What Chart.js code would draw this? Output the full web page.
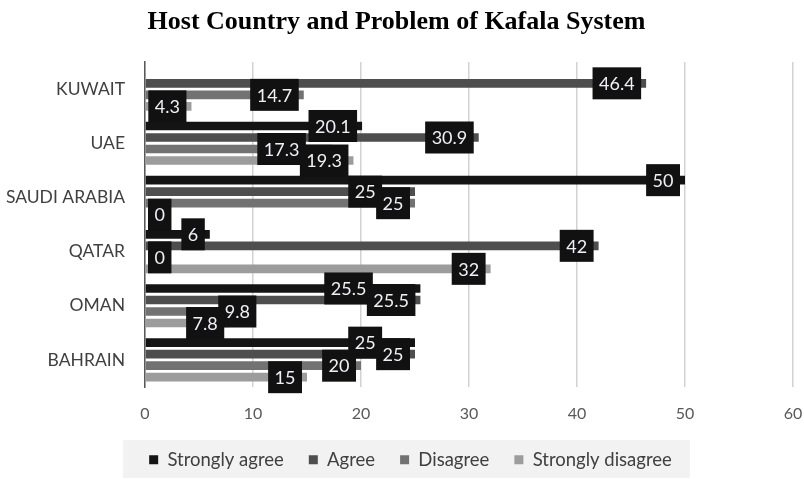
<!DOCTYPE html>
<html>
<head>
<meta charset="utf-8">
<script src="https://cdn.jsdelivr.net/npm/chart.js@4.4.0/dist/chart.umd.min.js"></script>
<style>
  html, body { margin: 0; padding: 0; background: #fff; overflow: hidden; }
  #wrap { width: 804px; height: 479px; }
</style>
</head>
<body>
<div id="wrap"><canvas id="chart"></canvas></div>
<script>
const countries = ['KUWAIT', 'UAE', 'SAUDI ARABIA', 'QATAR', 'OMAN', 'BAHRAIN'];
const stronglyAgree = [null, 20.1, 50, 6, 25.5, 25];
const agree = [46.4, 30.9, 25, 42, 25.5, 25];
const disagree = [14.7, 17.3, 25, 0, 9.8, 20];
const stronglyDisagree = [4.3, 19.3, 0, 32, 7.8, 15];
const seriesNames = ['Strongly agree', 'Agree', 'Disagree', 'Strongly disagree'];

const FONT = 'Lato, "Open Sans", sans-serif';

// black value boxes at the inside end of each bar; when two boxes in a
// group collide the earlier series is pushed aside (left if it is shorter to do so)
const barLabels = {
    id: 'barLabels',
    afterDatasetsDraw(chart) {
        const ctx = chart.ctx;
        const x0 = chart.scales.x.getPixelForValue(0);
        const h = 32, slack = 6, minOverlap = 10;
        ctx.save();
        ctx.font = '18px ' + FONT;
        ctx.textBaseline = 'middle';
        ctx.textAlign = 'center';

        const collides = (a, b) =>
            Math.abs(a.y - b.y) < h &&
            Math.min(a.right, b.right) - Math.max(a.left, b.left) > minOverlap;

        const placed = [];
        const n = chart.data.datasets.length;
        for (let i = n - 1; i >= 0; i--) {
            const ds = chart.data.datasets[i];
            chart.getDatasetMeta(i).data.forEach((bar, j) => {
                const v = ds.data[j];
                if (v === null || v === undefined) return;
                const txt = String(v);
                const w = ctx.measureText(txt).width + 13;
                let right = bar.x - 5;
                if (right - w < x0 + 3) right = x0 + 3 + w;
                let box = { left: right - w, right, y: bar.y, w, txt, i };
                const hit = placed.find(p => collides(box, p));
                if (hit) {
                    const toLeft = { ...box, right: hit.left + slack, left: hit.left + slack - w };
                    const toRight = { ...box, left: hit.right - slack, right: hit.right - slack + w };
                    const dl = box.right - toLeft.right;
                    const dr = toRight.left - box.left;
                    if (toLeft.left >= x0 + 3 && dl <= dr + 0.5) box = toLeft;
                    else box = toRight;
                }
                placed.push(box);
            });
        }

        placed.sort((a, b) => a.i - b.i).forEach(b => {
            ctx.fillStyle = '#111111';
            ctx.fillRect(b.left, b.y - h / 2, b.w, h);
            ctx.fillStyle = '#eef0f5';
            ctx.fillText(b.txt, b.left + b.w / 2, b.y + 1);
        });
        ctx.restore();
    }
};

// legend row sits a little right of centre, on a light grey panel
const legendPanel = {
    id: 'legendPanel',
    afterLayout(chart) {
        const lg = chart.legend;
        if (!lg) return;
        lg.left += 14;
        lg.right += 14;
        lg.adjustHitBoxes();
    },
    beforeDraw(chart) {
        const lg = chart.legend;
        if (!lg || !lg.legendHitBoxes.length) return;
        const boxes = lg.legendHitBoxes;
        const left = Math.min(...boxes.map(b => b.left)) - 26;
        const right = Math.max(...boxes.map(b => b.left + b.width)) + 18;
        const ctx = chart.ctx;
        ctx.save();
        ctx.fillStyle = '#f2f2f2';
        ctx.fillRect(left, 440, right - left, 38);
        ctx.restore();
    }
};

const colors = ['#141414', '#4e4e4e', '#727272', '#9c9c9c'];
const seriesData = [stronglyAgree, agree, disagree, stronglyDisagree];

const ctx = document.getElementById('chart').getContext('2d');
new Chart(ctx, {
    type: 'bar',
    data: {
        labels: countries,
        datasets: seriesNames.map((label, i) => ({
            label,
            data: seriesData[i],
            backgroundColor: colors[i],
            borderWidth: 0,
            categoryPercentage: 0.85,
            barPercentage: 0.75,
        }))
    },
    options: {
        indexAxis: 'y',
        responsive: true,
        maintainAspectRatio: false,
        animation: false,
        layout: {
            padding: { left: 0, right: 11, top: 0, bottom: 0 }
        },
        scales: {
            x: {
                min: 0,
                max: 60,
                ticks: {
                    stepSize: 10,
                    color: '#595959',
                    font: { family: FONT, size: 16 },
                    padding: 17
                },
                grid: {
                    color: '#d2d2d2',
                    lineWidth: 1.5,
                    drawTicks: false
                },
                border: { display: false },
                afterFit(scale) {
                    scale.height = 38.5;
                    scale.paddingRight = 0;
                }
            },
            y: {
                ticks: {
                    color: '#404040',
                    font: { family: FONT, size: 17.5 },
                    padding: 20
                },
                grid: { display: false, drawTicks: false },
                border: { display: true, color: '#595959', width: 1.5 },
                afterFit(scale) { scale.width = 145; }
            }
        },
        plugins: {
            title: {
                display: true,
                text: 'Host Country and Problem of Kafala System',
                color: '#000',
                font: { family: '"Liberation Serif", serif', size: 26, weight: 'bold' },
                padding: { top: 7, bottom: 23.8 }
            },
            legend: {
                position: 'bottom',
                labels: {
                    boxWidth: 9,
                    boxHeight: 9,
                    color: '#404040',
                    padding: 25,
                    font: { family: FONT, size: 18.5 }
                }
            },
            tooltip: { enabled: false }
        }
    },
    plugins: [legendPanel, barLabels]
});
</script>
</body>
</html>
